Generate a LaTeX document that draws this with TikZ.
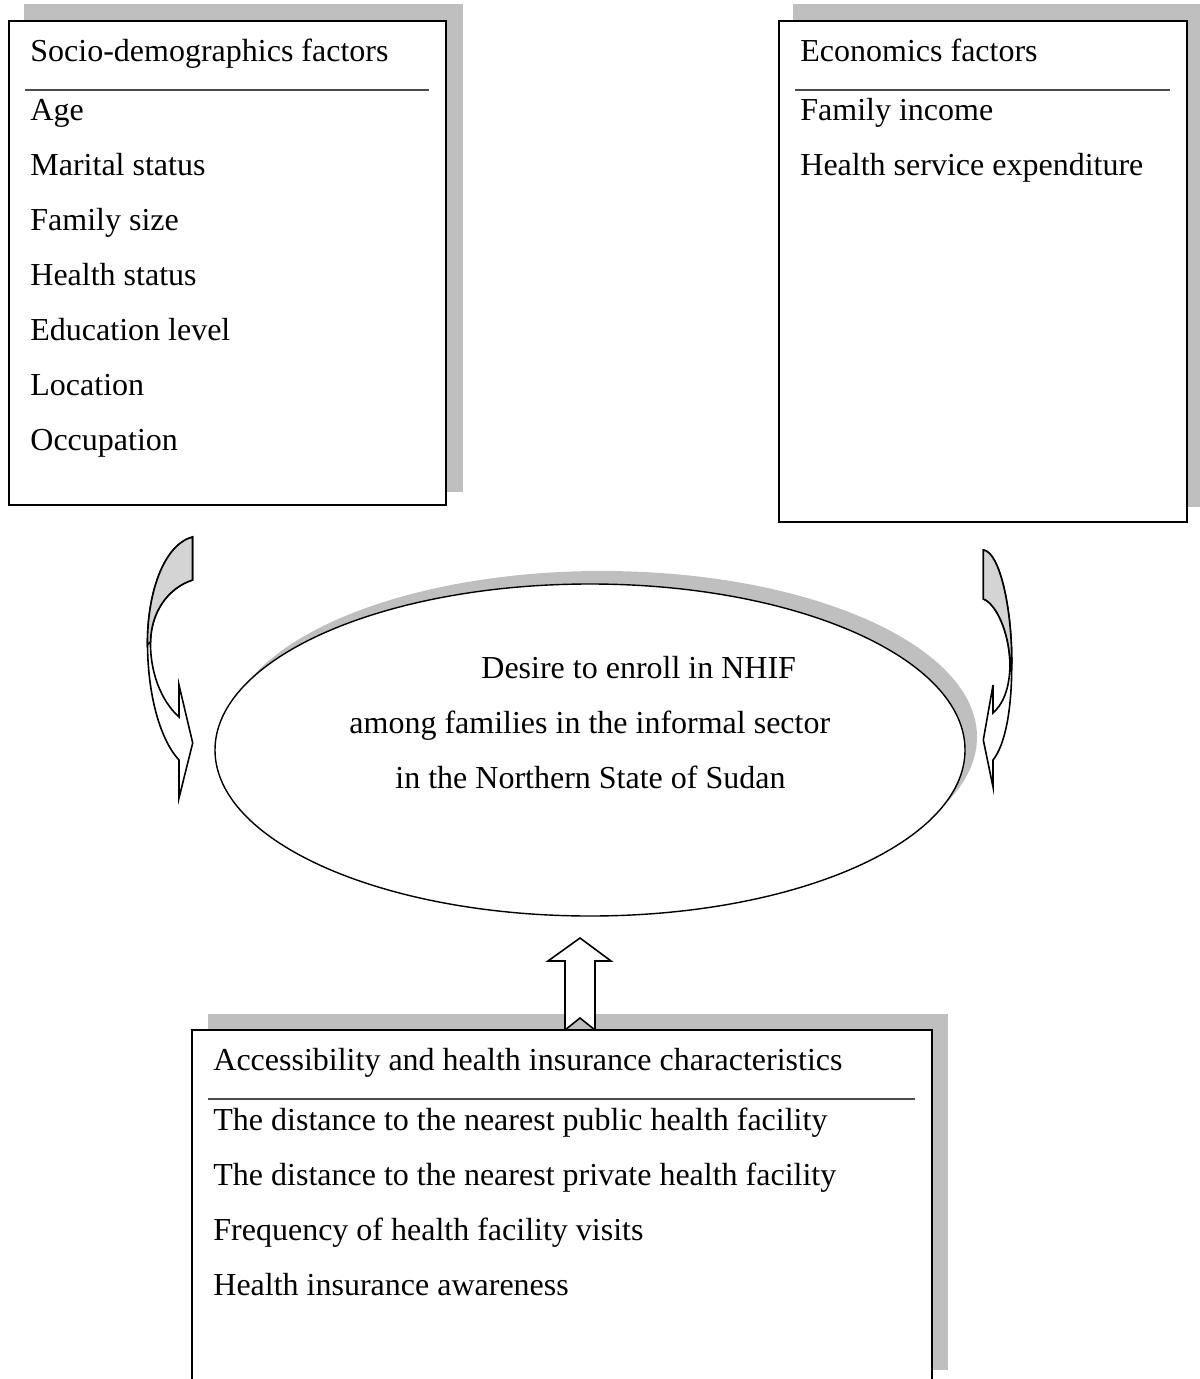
\documentclass[tikz,border=0pt]{standalone}
\usepackage{fontspec}
\setmainfont{Liberation Serif}
\usetikzlibrary{shapes.geometric}
\begin{document}
\begin{tikzpicture}[x=0.5pt,y=-0.5pt,
  txt/.style={anchor=base west,inner sep=0pt,font=\fontsize{16}{19}\selectfont},
  shadowfill/.style={fill=black!25,draw=none},
  frame/.style={draw=black,line width=1pt,fill=white},
  sepline/.style={draw=black!70,line width=0.6pt},
  blockarrow/.style={draw=black,line width=0.8pt,line join=miter,fill=white},
  backpart/.style={fill=black!17,draw=black,line width=0.8pt}]
\useasboundingbox (0,0) rectangle (1199,1379);

% ---------- left box ----------
\fill[shadowfill] (24,4) rectangle (463,492);
\draw[frame] (9,21) rectangle (446,505);
\draw[sepline] (25,90) -- (429,90);
\node[txt] (sdtitle) at (30,62) {Socio-demographics factors};
\node[txt] (sd1) at (30,121) {Age};
\node[txt] (sd2) at (30,176) {Marital status};
\node[txt] (sd3) at (30,231) {Family size};
\node[txt] (sd4) at (30,286) {Health status};
\node[txt] (sd5) at (30,341) {Education level};
\node[txt] (sd6) at (30,396) {Location};
\node[txt] (sd7) at (30,451) {Occupation};

% ---------- right box ----------
\fill[shadowfill] (793,4) rectangle (1203,507);
\draw[frame] (779,21) rectangle (1187,522);
\draw[sepline] (795,90) -- (1170,90);
\node[txt] (ectitle) at (800,62) {Economics factors};
\node[txt] (ec1) at (800,121) {Family income};
\node[txt] (ec2) at (800,176) {Health service expenditure};

% ---------- bottom box ----------
\fill[shadowfill] (208,1014) rectangle (948,1370);
% up arrow
\draw[blockarrow] (565,1030) -- (565,961) -- (548,961) -- (580,938) -- (611,961)
   -- (595,961) -- (595,1030) -- (580,1018) -- cycle;
\fill[white] (192,1030) rectangle (932,1385);
\draw[line width=1pt] (192,1385) -- (192,1030) -- (932,1030) -- (932,1385);
\draw[sepline] (208,1099) -- (915,1099);
\node[txt] (actitle) at (213,1070) {Accessibility and health insurance characteristics};
\node[txt] (ac1) at (213,1130) {The distance to the nearest public health facility};
\node[txt] (ac2) at (213,1185) {The distance to the nearest private health facility};
\node[txt] (ac3) at (213,1240) {Frequency of health facility visits};
\node[txt] (ac4) at (213,1295) {Health insurance awareness};

% ---------- central ellipse ----------
\node[ellipse,fill=black!25,minimum width=375pt,minimum height=166pt,inner sep=0pt] (goalshadow) at (602,737) {};
\node[ellipse,draw=black,line width=0.7pt,fill=white,minimum width=375pt,minimum height=166pt,inner sep=0pt] (goal) at (590,750) {};
\node[txt] (g1) at (481,678) {Desire to enroll in NHIF};
\node[txt] (g2) at (349,733) {among families in the informal sector};
\node[txt] (g3) at (395,788) {in the Northern State of Sudan};

% ---------- left curved arrow ----------
\draw[blockarrow] (192.5,537) .. controls (163,545) and (147,595) .. (147.5,645)
   .. controls (148,700) and (162,742) .. (179,760)
   -- (179,798) -- (192.7,743) -- (179,685) -- (179,717)
   .. controls (160,700) and (150,670) .. (150.5,642)
   .. controls (151,612) and (168,588) .. (192.5,580) -- cycle;
\draw[backpart] (192.5,537) .. controls (163,545) and (147,595) .. (147.5,645)
   -- (150.5,642) .. controls (151,612) and (168,588) .. (192.5,580) -- cycle;

% ---------- right curved arrow ----------
\draw[blockarrow] (983.3,550) .. controls (1000,552) and (1012,610) .. (1011.7,663)
   .. controls (1012,710) and (1005,745) .. (993,760)
   -- (993,787) -- (983.3,740) -- (993,685) -- (993,713)
   .. controls (1002,705) and (1010,690) .. (1010,663)
   .. controls (1009,630) and (995,603) .. (983.3,599) -- cycle;
\draw[backpart] (983.3,550) .. controls (1000,552) and (1012,610) .. (1011.7,663)
   -- (1010,663) .. controls (1009,630) and (995,603) .. (983.3,599) -- cycle;
\end{tikzpicture}
\end{document}
